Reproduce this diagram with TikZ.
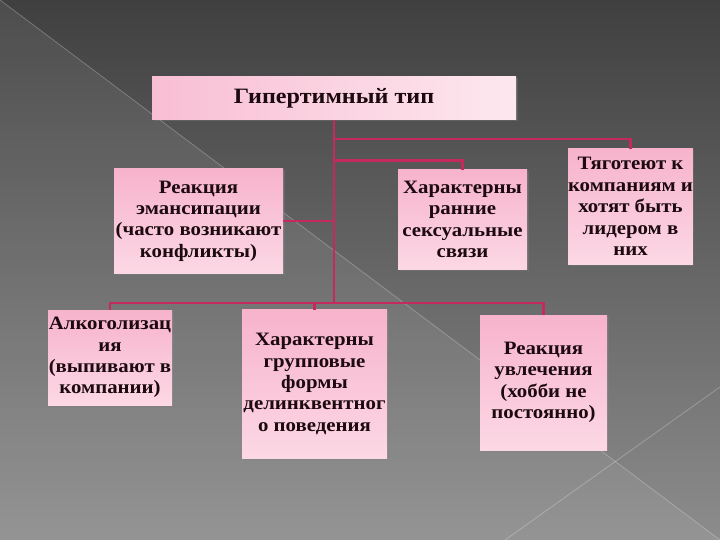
\documentclass[tikz,border=0pt]{standalone}
\usepackage{fontspec}
\setmainfont{Liberation Serif}[FakeStretch=1.1]
\usetikzlibrary{shadows}
\definecolor{linkred}{HTML}{C42A5C}
\definecolor{boxtop}{HTML}{F7B3CC}
\definecolor{boxbot}{HTML}{FCD8E5}
\definecolor{inkdark}{HTML}{1C0A10}
\tikzset{
	box/.style={inner sep=0pt, align=center, text=inkdark,
		top color=boxtop, bottom color=boxbot,
		font=\bfseries\fontsize{19}{21.5}\selectfont,
		drop shadow={shadow xshift=1.5bp, shadow yshift=-1.5bp, opacity=0.35}},
	titlebox/.style={box, left color=boxtop!70!boxbot, right color=boxbot!60!white,
		font=\bfseries\fontsize{22}{24}\selectfont},
	link/.style={draw=linkred, line width=2.4bp},
}
\begin{document}
\begin{tikzpicture}[x=1bp, y=-1bp]
			%%%%% START %%%%%
			
			\useasboundingbox (0, 0) rectangle (720, 540);
			\shade[top color=black!75, bottom color=black!45] (0, 0) rectangle (720, 540);
			\fill[white, opacity=0.07] (0, 0) -- (720, 540) -- (0, 540) -- cycle;
			\draw[white, opacity=0.25, line width=0.8bp] (0, 0) -- (720, 540);
			\draw[white, opacity=0.25, line width=0.8bp] (720, 387) -- (505, 540);
			
			\node[titlebox, minimum width=364bp, minimum height=43bp] (hyper) at (334, 98.5) {Гипертимный тип};
			
			\node[box, minimum width=169bp, minimum height=104bp] (emans) at (198.5, 221) {Реакция\\эмансипации\\(часто возникают\\конфликты)};
			\node[box, minimum width=129bp, minimum height=99bp] (rannie) at (462.5, 219.5) {Характерны\\ранние\\сексуальные\\связи};
			\node[box, minimum width=123bp, minimum height=115bp] (tyagot) at (630.5, 206.5) {Тяготеют к\\компаниям и\\хотят быть\\лидером в\\них};
			
			\node[box, minimum width=124bp, minimum height=95bp] (alko) at (110, 357.5) {Алкоголизац\\ия\\(выпивают в\\компании)};
			\node[box, minimum width=145bp, minimum height=148bp] (grup) at (314.5, 384) {Характерны\\групповые\\формы\\делинквентног\\о поведения};
			\node[box, minimum width=127bp, minimum height=135bp] (uvlech) at (543.5, 382.5) {Реакция\\увлечения\\(хобби не\\постоянно)};
			
			\coordinate (bus) at (334, 303);
			\draw[link] (hyper.south) -- (bus);
			\draw[link] ([yshift=-19bp]hyper.south) -| (tyagot.north);
			\draw[link] ([yshift=-40.5bp]hyper.south) -| (rannie.north);
			\draw[link] (emans.east) -- (emans.east -| hyper.south);
			\draw[link] (bus) -| (alko.north);
			\draw[link] (bus) -| (grup.north);
			\draw[link] (bus) -| (uvlech.north);
			
			%%%%% END %%%%%
\end{tikzpicture}
\end{document}
